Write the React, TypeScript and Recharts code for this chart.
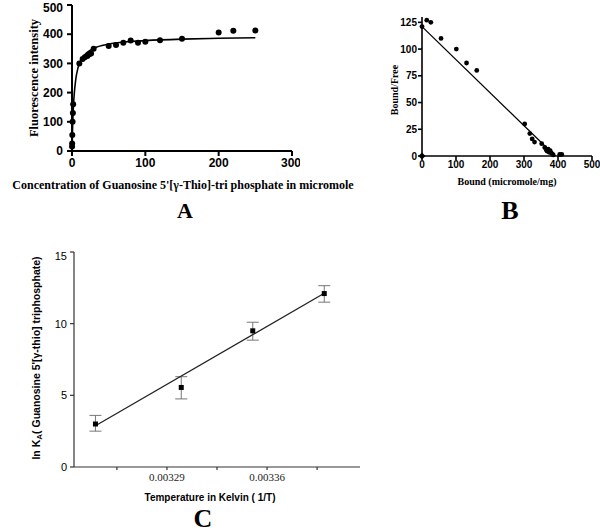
import React from "react";
import { ScatterChart, Scatter, XAxis, YAxis, ErrorBar } from "recharts";

// Panel A: fluorescence titration
const titrationPoints = [
  { x: 0.1, y: 15 }, { x: 0.2, y: 26 }, { x: 0.4, y: 55 }, { x: 0.8, y: 100 },
  { x: 1.2, y: 130 }, { x: 1.6, y: 160 }, { x: 10, y: 300 }, { x: 14.5, y: 315 },
  { x: 17.5, y: 321 }, { x: 21, y: 325 }, { x: 23.5, y: 331 }, { x: 26, y: 334 },
  { x: 29.5, y: 350 }, { x: 50, y: 360 }, { x: 60, y: 363 }, { x: 70, y: 371 },
  { x: 80, y: 378 }, { x: 90, y: 371 }, { x: 100, y: 374 }, { x: 120, y: 379 },
  { x: 150, y: 384 }, { x: 200, y: 406 }, { x: 220, y: 412 }, { x: 250, y: 413 },
];
const titrationFit = [
  { x: 0, y: 0 }, { x: 1, y: 98 }, { x: 2, y: 156 }, { x: 3, y: 194 },
  { x: 5, y: 243 }, { x: 8, y: 283 }, { x: 10, y: 300 }, { x: 15, y: 322 },
  { x: 20, y: 336 }, { x: 30, y: 352 }, { x: 50, y: 366 }, { x: 75, y: 374 },
  { x: 100, y: 378 }, { x: 150, y: 383 }, { x: 200, y: 386 }, { x: 250, y: 388 },
];
const ticksAX = [0, 100, 200, 300];
const ticksAY = [0, 100, 200, 300, 400, 500];

// Panel B: Scatchard plot
const scatchardPoints = [
  { x: 0, y: 121 }, { x: 14, y: 127 }, { x: 26, y: 125 }, { x: 56, y: 110 },
  { x: 101, y: 100 }, { x: 131, y: 87 }, { x: 161, y: 80 }, { x: 302, y: 30 },
  { x: 317, y: 21 }, { x: 324, y: 16 }, { x: 331, y: 13 }, { x: 352, y: 11.5 },
  { x: 361, y: 8 }, { x: 365, y: 6 }, { x: 368, y: 4.5 }, { x: 371, y: 6.5 },
  { x: 374, y: 3.5 }, { x: 377, y: 5 }, { x: 380, y: 3 }, { x: 383, y: 2 },
  { x: 386, y: 1 }, { x: 405, y: 1.5 }, { x: 411, y: 1.5 },
];
const scatchardOrigin = [{ x: 0, y: 0 }];
const scatchardFit = [{ x: 0, y: 121 }, { x: 392, y: 0 }];
const ticksBX = [0, 100, 200, 300, 400, 500];
const ticksBY = [0, 25, 50, 75, 100, 125];

// Panel C: van't Hoff plot
const vantHoffPoints = [
  { x: 0.00324, y: 3.0, err: [0.5, 0.6] },
  { x: 0.0033, y: 5.55, err: [0.8, 0.75] },
  { x: 0.00335, y: 9.5, err: [0.65, 0.6] },
  { x: 0.0034, y: 12.1, err: [0.6, 0.55] },
];
const vantHoffFit = [{ x: 0.00324, y: 2.88 }, { x: 0.0034, y: 12.12 }];
const ticksCX = [0.003255, 0.00329, 0.003325, 0.00336, 0.003395];
const majorCX = [0.00329, 0.00336];
const ticksCY = [0, 5, 10, 15];

const SERIF = "'Liberation Serif', 'Times New Roman', serif";
const SANS = "'Liberation Sans', Arial, sans-serif";

const Dot = (r: number) => (p: any) => <circle cx={p.cx} cy={p.cy} r={r} fill="#000" />;
const Nothing = () => <g />;

const Txt = ({ x, y, size, font, bold = true, rotate = false, children }: any) => (
  <div
    style={{
      position: "absolute",
      left: x,
      top: y,
      transform: `translate(-50%, -50%)${rotate ? " rotate(-90deg)" : ""}`,
      fontFamily: font,
      fontSize: size,
      fontWeight: bold ? 700 : 400,
      whiteSpace: "nowrap",
      lineHeight: 1,
      color: "#000",
    }}
  >
    {children}
  </div>
);

const CTick = (p: any) => {
  const v = Number(p.payload.value);
  if (!majorCX.some((m) => Math.abs(m - v) < 1e-7)) return <g />;
  return (
    <text x={p.x} y={p.y} dy={9} textAnchor="middle" fontFamily={SERIF} fontSize={11} fill="#222">
      {v.toFixed(5)}
    </text>
  );
};

const Diamond = (p: any) => (
  <path d={`M${p.cx},${p.cy - 3.5}L${p.cx + 3.5},${p.cy}L${p.cx},${p.cy + 3.5}L${p.cx - 3.5},${p.cy}Z`} fill="#000" />
);

export default function App() {
  return (
    <div style={{ position: "absolute", left: 0, top: 0, width: 600, height: 532, background: "#fff" }}>
      {/* A */}
      <div style={{ position: "absolute", left: 0, top: 0 }}>
        <ScatterChart width={300} height={170} margin={{ top: 5, right: 8, bottom: 0, left: 0 }}>
          <XAxis
            type="number" dataKey="x" domain={[0, 300]} ticks={ticksAX} height={19}
            stroke="#000" strokeWidth={2} tickSize={5} tickMargin={2}
            tick={{ fill: "#000", fontFamily: SANS, fontWeight: 700, fontSize: 12 }}
          />
          <YAxis
            type="number" dataKey="y" domain={[0, 500]} ticks={ticksAY} width={72}
            stroke="#000" strokeWidth={2} tickSize={5} tickMargin={4}
            tick={{ fill: "#000", fontFamily: SANS, fontWeight: 700, fontSize: 12 }}
          />
          <Scatter data={titrationFit} shape={Nothing} line={{ stroke: "#000", strokeWidth: 1.6 }} lineJointType="monotoneX" isAnimationActive={false} />
          <Scatter data={titrationPoints} shape={Dot(3)} isAnimationActive={false} />
        </ScatterChart>
      </div>
      <Txt x={34} y={78} size={12.5} font={SERIF} rotate>Fluorescence intensity</Txt>
      <Txt x={183} y={185} size={12} font={SERIF}>Concentration of Guanosine 5'[γ-Thio]-tri phosphate in micromole</Txt>
      <Txt x={185} y={211} size={22} font={SERIF}>A</Txt>

      {/* B */}
      <div style={{ position: "absolute", left: 400, top: 0 }}>
        <ScatterChart width={200} height={170} margin={{ top: 17, right: 8, bottom: 0, left: 0 }}>
          <XAxis
            type="number" dataKey="x" domain={[0, 500]} ticks={ticksBX} height={14}
            stroke="#000" strokeWidth={1.6} tickSize={4} tickMargin={1}
            tick={{ fill: "#000", fontFamily: SANS, fontWeight: 700, fontSize: 10 }}
          />
          <YAxis
            type="number" dataKey="y" domain={[0, 130]} ticks={ticksBY} width={22}
            stroke="#000" strokeWidth={1.6} tickSize={4} tickMargin={1}
            tick={{ fill: "#000", fontFamily: SANS, fontWeight: 700, fontSize: 10 }}
          />
          <Scatter data={scatchardFit} shape={Nothing} line={{ stroke: "#000", strokeWidth: 1.3 }} isAnimationActive={false} />
          <Scatter data={scatchardPoints} shape={Dot(2.4)} isAnimationActive={false} />
          <Scatter data={scatchardOrigin} shape={Diamond} isAnimationActive={false} />
        </ScatterChart>
      </div>
      <Txt x={395} y={90} size={10} font={SERIF} rotate>Bound/Free</Txt>
      <Txt x={507} y={182} size={10} font={SERIF}>Bound (micromole/mg)</Txt>
      <Txt x={510} y={211} size={26} font={SERIF}>B</Txt>

      {/* C */}
      <div style={{ position: "absolute", left: 0, top: 250 }}>
        <ScatterChart width={370} height={236} margin={{ top: 2, right: 10, bottom: 0, left: 0 }}>
          <XAxis
            type="number" dataKey="x" domain={[0.003225, 0.003425]} ticks={ticksCX} height={19}
            stroke="#333" strokeWidth={1.2} tickSize={3} tickMargin={2} tick={CTick}
            interval={0} allowDataOverflow
          />
          <YAxis
            type="number" dataKey="y" domain={[0, 15]} ticks={ticksCY} width={74}
            stroke="#333" strokeWidth={1.2} tickSize={4} tickMargin={3}
            tick={{ fill: "#000", fontFamily: SANS, fontSize: 11 }}
          />
          <Scatter data={vantHoffFit} shape={Nothing} line={{ stroke: "#222", strokeWidth: 1.3 }} isAnimationActive={false} />
          <Scatter
            data={vantHoffPoints}
            shape={(p: any) => <rect x={p.cx - 2.5} y={p.cy - 2.5} width={5} height={5} fill="#000" />}
            isAnimationActive={false}
          >
            <ErrorBar dataKey="err" direction="y" width={6} stroke="#777" strokeWidth={1} />
          </Scatter>
        </ScatterChart>
      </div>
      <Txt x={37} y={358} size={10.5} font={SANS} rotate>
        ln K<sub style={{ fontSize: 8, verticalAlign: "-2px" }}>A</sub>( Guanosine 5'[γ-thio] triphosphate)
      </Txt>
      <Txt x={210} y={498} size={10} font={SANS}>Temperature in Kelvin ( 1/T)</Txt>
      <Txt x={203} y={519} size={26} font={SERIF}>C</Txt>
    </div>
  );
}
